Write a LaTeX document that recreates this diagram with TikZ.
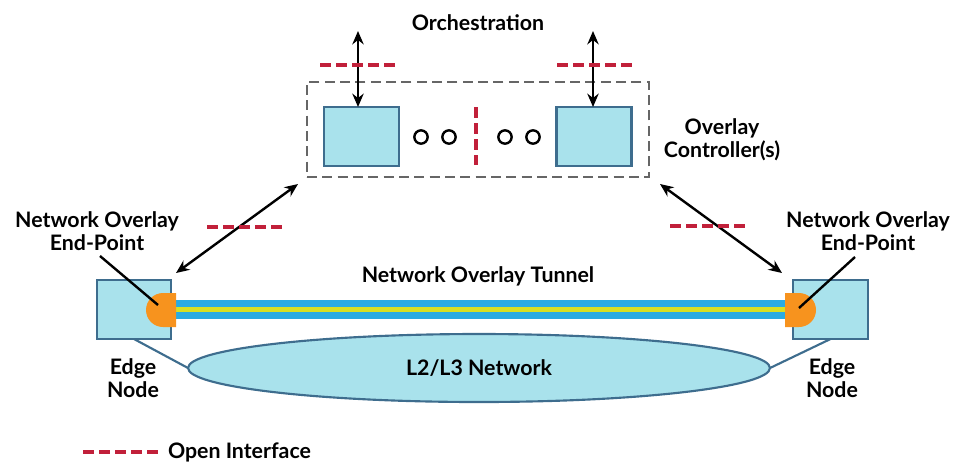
\documentclass[tikz,border=0pt]{standalone}
\usepackage{fontspec}
\setmainfont{Lato}
\usetikzlibrary{arrows.meta,shapes.geometric}
\definecolor{boxfill}{HTML}{A9E2EC}
\definecolor{boxdraw}{HTML}{3E6D8E}
\definecolor{ifred}{HTML}{C1203A}
\definecolor{epor}{HTML}{F7931E}
\definecolor{tunblue}{HTML}{29ABE2}
\definecolor{tunyel}{HTML}{D7DF23}
\definecolor{dgray}{HTML}{666666}
\begin{document}
\begin{tikzpicture}[x=0.75pt,y=-0.75pt,
  every node/.style={font=\fontsize{16}{17.3}\selectfont\bfseries, inner sep=0pt, outer sep=0pt},
  blk/.style={draw=boxdraw, fill=boxfill, line width=1.6pt, minimum height=44.25pt},
  grp/.style={draw=dgray, dash pattern=on 7.5pt off 4pt, line width=1.8pt},
  openif/.style={draw=ifred, line width=3pt, dash pattern=on 8.5pt off 3.5pt},
  biarrow/.style={draw=black, line width=1.8pt, {Stealth[length=10pt,width=8.5pt]}-{Stealth[length=10pt,width=8.5pt]}},
  pointer/.style={draw=black, line width=1.8pt},
  link/.style={draw=boxdraw, line width=1.6pt},
  dot/.style={circle, draw=black, line width=1.8pt, minimum size=10pt},
  lbl/.style={align=center}
]
\useasboundingbox (0,0) rectangle (967,462);

% controller group
\node[grp, minimum width=256.5pt, minimum height=71.25pt] (ctl) at (478,129.5) {};
\node[blk, minimum width=56.25pt] (c1) at (361.5,136.5) {};
\node[blk, minimum width=56.25pt] (c2) at (594,136.5) {};
\node[dot] (d1) at (421,137) {};
\node[dot] (d2) at (449,137) {};
\node[dot] (d3) at (505,137) {};
\node[dot] (d4) at (533,137) {};
\coordinate (vt) at (476,107);
\coordinate (vb) at (476,165);
\draw[openif] (vt) -- (vb);

\node (orch) at (478,23) {Orchestration};
\node[lbl] (occ) at (722,140) {Overlay\\Controller(s)};

\coordinate (o1) at (358,31);
\coordinate (o2) at (593,31);
\draw[biarrow] (o1) -- (o1 |- c1.north);
\draw[biarrow] (o2) -- (o2 |- c2.north);
\coordinate (r1a) at (320,65);
\coordinate (r1b) at (397,65);
\coordinate (r2a) at (557,65);
\coordinate (r2b) at (634,65);
\draw[openif] (r1a) -- (r1b);
\draw[openif] (r2a) -- (r2b);

% L2/L3 network
\node[ellipse, draw=boxdraw, fill=boxfill, line width=1.6pt, minimum width=436.5pt, minimum height=51pt] (net) at (479,368) {L2/L3 Network};

% edge nodes
\node[blk, minimum width=55.5pt] (eL) at (134,309.5) {};
\node[blk, minimum width=56.25pt] (eR) at (830.5,309.5) {};
\draw[link] (eL.south) -- (net.west);
\draw[link] (eR.south) -- (net.east);

% tunnel
\fill[tunblue] (176,300) rectangle (786,319);
\fill[tunyel] (176,307) rectangle (786,312);
\node (tun) at (478,276) {Network Overlay Tunnel};

% end points
\fill[epor] (176,293) -- (176,327) -- (163,327) arc[start angle=270, end angle=90, radius=12.75pt] -- cycle;
\fill[epor] (785,293) -- (799,293) arc[start angle=90, end angle=-90, radius=12.75pt] -- (785,327) -- cycle;
\coordinate (epL) at (158,305);
\coordinate (epR) at (799,308);

\node[lbl] (nL) at (97,231.5) {Network Overlay\\End-Point};
\node[lbl] (nR) at (868,231.5) {Network Overlay\\End-Point};
\coordinate (nLp) at (100,256);
\coordinate (nRp) at (855,257);
\draw[pointer] (nLp) -- (epL);
\draw[pointer] (nRp) -- (epR);

% controller to end points
\coordinate (aL1) at (298,184);
\coordinate (aL2) at (176,273);
\coordinate (aR1) at (660,184);
\coordinate (aR2) at (782,273);
\draw[biarrow] (aL1) -- (aL2);
\draw[biarrow] (aR1) -- (aR2);
\coordinate (sLa) at (207,227);
\coordinate (sLb) at (284,227);
\coordinate (sRa) at (670,226);
\coordinate (sRb) at (747,226);
\draw[openif] (sLa) -- (sLb);
\draw[openif] (sRa) -- (sRb);

\node[lbl] (edL) at (133,378.5) {Edge\\Node};
\node[lbl] (edR) at (832,378.5) {Edge\\Node};

% legend
\coordinate (lga) at (83,452);
\coordinate (lgb) at (160,452);
\draw[openif] (lga) -- (lgb);
\node[anchor=west] (lgt) at (168,452) {Open Interface};
\end{tikzpicture}
\end{document}
